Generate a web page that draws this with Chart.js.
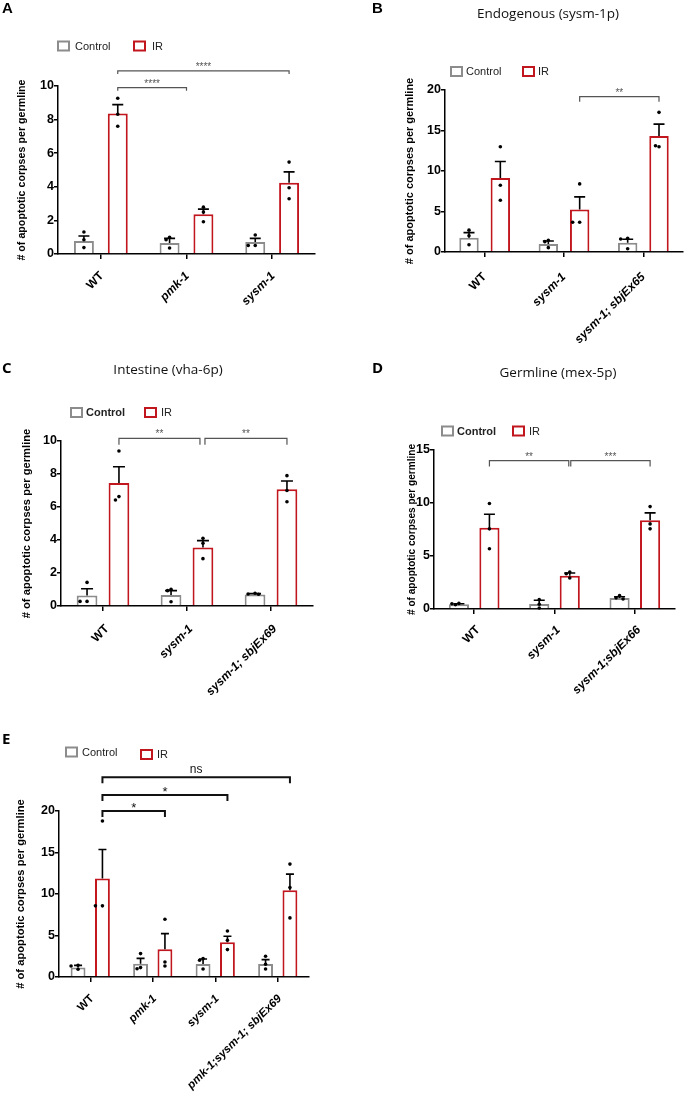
<!DOCTYPE html>
<html>
<head>
<meta charset="utf-8">
<script src="https://cdn.jsdelivr.net/npm/chart.js@4.4.0/dist/chart.umd.min.js"></script>
<style>
html, body { margin: 0; padding: 0; background: #fff; }
#page { position: relative; width: 685px; height: 1097px; overflow: hidden; }
canvas { position: absolute; }
</style>
</head>
<body>
<div id="page">
  <canvas id="chartA"></canvas>
  <canvas id="chartB"></canvas>
  <canvas id="chartC"></canvas>
  <canvas id="chartD"></canvas>
  <canvas id="chartE"></canvas>
</div>
<script>
// --- DATA ---
// Panel A
const aLabels = ['WT', 'pmk-1', 'sysm-1'];
const aCtrlMean = [0.77, 0.65, 0.71];
const aCtrlSem = [0.30, 0.28, 0.22];
const aCtrlDots = [[1.31, 0.85, 0.38], [0.99, 0.85, 0.36], [1.13, 0.51, 0.51]];
const aIrMean = [8.36, 2.36, 4.24];
const aIrSem = [0.53, 0.31, 0.65];
const aIrDots = [[9.27, 8.32, 7.6], [2.79, 2.5, 1.92], [5.47, 3.94, 3.29]];
const aYTicks = [0, 2, 4, 6, 8, 10];

// Panel B
const bLabels = ['WT', 'sysm-1', 'sysm-1; sbjEx65'];
const bCtrlMean = [1.77, 0.99, 1.15];
const bCtrlSem = [0.62, 0.37, 0.42];
const bCtrlDots = [[2.7, 2.0, 0.9], [1.44, 1.28, 0.54], [1.69, 1.6, 0.41]];
const bIrMean = [9.15, 5.24, 14.31];
const bIrSem = [2.03, 1.56, 1.48];
const bIrDots = [[12.99, 8.25, 6.39], [8.41, 3.67, 3.67], [17.24, 12.99, 13.11]];
const bYTicks = [0, 5, 10, 15, 20];

// Panel C
const cLabels = ['WT', 'sysm-1', 'sysm-1; sbjEx69'];
const cCtrlMean = [0.63, 0.67, 0.69];
const cCtrlSem = [0.42, 0.26, 0.06];
const cCtrlDots = [[1.43, 0.28, 0.28], [1.01, 0.93, 0.26], [0.77, 0.73, 0.71]];
const cIrMean = [7.45, 3.54, 7.07];
const cIrSem = [0.99, 0.42, 0.51];
const cIrDots = [[9.39, 6.63, 6.42], [4.1, 3.8, 2.87], [7.9, 7.0, 6.32]];
const cYTicks = [0, 2, 4, 6, 8, 10];

// Panel D
const dLabels = ['WT', 'sysm-1', 'sysm-1;sbjEx66'];
const dCtrlMean = [0.44, 0.47, 1.04];
const dCtrlSem = [0.06, 0.35, 0.12];
const dCtrlDots = [[0.53, 0.5, 0.4], [0.88, 0.45, 0.09], [1.26, 1.05, 0.95]];
const dIrMean = [7.66, 3.14, 8.38];
const dIrSem = [1.28, 0.25, 0.69];
const dIrDots = [[9.95, 7.56, 5.68], [3.48, 3.33, 2.92], [9.66, 8.03, 7.56]];
const dYTicks = [0, 5, 10, 15];

// Panel E
const eLabels = ['WT', 'pmk-1', 'sysm-1', 'pmk-1;sysm-1; sbjEx69'];
const eCtrlMean = [1.13, 1.61, 1.57, 1.57];
const eCtrlSem = [0.27, 0.64, 0.6, 0.52];
const eCtrlDots = [[1.41, 1.33, 0.93], [2.82, 1.13, 1.0], [2.21, 2.01, 0.97], [2.5, 1.53, 0.97]];
const eIrMean = [11.87, 3.34, 4.19, 10.46];
const eIrSem = [3.5, 1.89, 0.72, 1.93];
const eIrDots = [[18.79, 8.57, 8.57], [6.96, 1.81, 1.33], [5.55, 4.43, 3.3], [13.6, 10.78, 7.12]];
const eYTicks = [0, 5, 10, 15, 20];

// significance brackets: from/to = [category, dataset (-1 = category centre), px nudge]
const aBrackets = [
  { from: [0, 1, 0], to: [1, -1, 0], y: 9.9, text: '****' },
  { from: [0, 1, 0], to: [2, 1, 0], y: 10.9, text: '****' }
];
const bBrackets = [{ from: [1, 1, 0], to: [2, 1, 0], y: 19.17, text: '**' }];
const cBrackets = [
  { from: [0, 1, 0], to: [1, 1, -3], y: 10.16, text: '**' },
  { from: [1, 1, 2], to: [2, 1, 0], y: 10.16, text: '**' }
];
const dBrackets = [
  { from: [0, 1, 0], to: [1, 1, -1], y: 14.0, text: '**' },
  { from: [1, 1, 1], to: [2, 1, 0], y: 14.0, text: '***' }
];
const eBrackets = [
  { from: [0, 1, 0], to: [1, 1, 0], y: 20.0, text: '*' },
  { from: [0, 1, 0], to: [2, 1, 0], y: 21.93, text: '*' },
  { from: [0, 1, 0], to: [3, 1, 0], y: 24.06, text: 'ns' }
];

// --- STYLE ---
const SANS = "'Liberation Sans', Arial, Helvetica, sans-serif";
const OPEN = "'Open Sans', 'Liberation Sans', sans-serif";
const CTRL_COLOR = '#8c8c8c';
const IR_COLOR = '#c1161e';
const Y_TITLE = '# of apoptotic corpses per germline';

// --- PANEL LAYOUT (page coordinates) ---
const panels = [
  {
    id: 'chartA', left: 0, top: 0, width: 340, height: 330,
    area: { l: 58, t: 86, r: 315, b: 254 }, yTitleX: 22, yTitleSize: 10.7,
    labels: aLabels, italic: [false, true, true], yTicks: aYTicks, yMax: 10,
    ctrl: { mean: aCtrlMean, sem: aCtrlSem, dots: aCtrlDots },
    ir: { mean: aIrMean, sem: aIrSem, dots: aIrDots },
    catPct: 0.79, barPct: 0.59, cap: 11, xFont: 12, xPad: 10, xShift: 1,
    letter: { text: 'A', x: 2, y: 13, font: 'bold 15px ' + SANS },
    legend: { y: 46, ctrlBox: 58, ctrlText: 75, irBox: 134, irText: 152, ctrlBold: false },
    brackets: aBrackets, bStyle: { color: '#555', width: 1.2, drop: 3, font: '10px ' + SANS, gap: 0 }
  },
  {
    id: 'chartB', left: 340, top: 0, width: 345, height: 346,
    area: { l: 445, t: 90, r: 683, b: 252 }, yTitleX: 410, yTitleSize: 11,
    labels: bLabels, italic: [false, true, true], yTicks: bYTicks, yMax: 20,
    ctrl: { mean: bCtrlMean, sem: bCtrlSem, dots: bCtrlDots },
    ir: { mean: bIrMean, sem: bIrSem, dots: bIrDots },
    catPct: 0.79, barPct: 0.62, cap: 11, xFont: 12, xPad: 13, xShift: 0,
    letter: { text: 'B', x: 372, y: 13, font: 'bold 15px ' + SANS },
    title: { text: 'Endogenous (sysm-1p)', x: 548, y: 14.5 },
    legend: { y: 71.5, ctrlBox: 451, ctrlText: 466, irBox: 523, irText: 538, ctrlBold: false },
    brackets: bBrackets, bStyle: { color: '#555', width: 1.2, drop: 5, font: '10px ' + SANS, gap: 0 }
  },
  {
    id: 'chartC', left: 0, top: 330, width: 340, height: 372,
    area: { l: 61, t: 441, r: 313, b: 606 }, yTitleX: 27, yTitleSize: 11.2,
    labels: cLabels, italic: [false, true, true], yTicks: cYTicks, yMax: 10,
    ctrl: { mean: cCtrlMean, sem: cCtrlSem, dots: cCtrlDots },
    ir: { mean: cIrMean, sem: cIrSem, dots: cIrDots },
    catPct: 0.76, barPct: 0.65, cap: 12, xFont: 12, xPad: 11, xShift: 4,
    letter: { text: 'C', x: 2, y: 373, font: 'bold 15px ' + OPEN },
    title: { text: 'Intestine (vha-6p)', x: 168, y: 370 },
    legend: { y: 412.5, ctrlBox: 71, ctrlText: 86, irBox: 145, irText: 161, ctrlBold: true },
    brackets: cBrackets, bStyle: { color: '#555', width: 1.2, drop: 6.5, font: '10px ' + SANS, gap: 0 }
  },
  {
    id: 'chartD', left: 340, top: 330, width: 345, height: 372,
    area: { l: 434, t: 450, r: 675, b: 609 }, yTitleX: 412, yTitleSize: 10.1,
    labels: dLabels, italic: [false, true, true], yTicks: dYTicks, yMax: 15,
    ctrl: { mean: dCtrlMean, sem: dCtrlSem, dots: dCtrlDots },
    ir: { mean: dIrMean, sem: dIrSem, dots: dIrDots },
    catPct: 0.76, barPct: 0.66, cap: 11, xFont: 12, xPad: 9, xShift: 4,
    letter: { text: 'D', x: 372, y: 373, font: 'bold 15px ' + OPEN },
    title: { text: 'Germline (mex-5p)', x: 558, y: 373 },
    legend: { y: 431, ctrlBox: 442, ctrlText: 457, irBox: 513, irText: 529, ctrlBold: true },
    brackets: dBrackets, bStyle: { color: '#555', width: 1.2, drop: 6, font: '10px ' + SANS, gap: 0 }
  },
  {
    id: 'chartE', left: 0, top: 720, width: 420, height: 377,
    area: { l: 59, t: 811, r: 309, b: 977 }, yTitleX: 21, yTitleSize: 11.2,
    labels: eLabels, italic: [false, true, true, true], yTicks: eYTicks, yMax: 20,
    ctrl: { mean: eCtrlMean, sem: eCtrlSem, dots: eCtrlDots },
    ir: { mean: eIrMean, sem: eIrSem, dots: eIrDots },
    catPct: 0.78, barPct: 0.61, cap: 8, xFont: 11.5, xPad: 10, xShift: 2,
    letter: { text: 'E', x: 2, y: 744, font: 'bold 15px ' + OPEN },
    legend: { y: 752, irY: 754.5, ctrlBox: 66, ctrlText: 82, irBox: 141, irText: 157, ctrlBold: false },
    brackets: eBrackets, bStyle: { color: '#111', width: 2, drop: 6, font: '13px ' + SANS, nsFont: '12px ' + SANS, gap: -2 }
  }
];

// --- OVERLAY: SEM bars, replicate dots, brackets, legend, titles ---
function overlay(p) {
  return {
    id: 'overlay',
    afterDatasetsDraw(chart) {
      const ctx = chart.ctx, ys = chart.scales.y;
      ctx.save();
      [p.ctrl, p.ir].forEach((s, di) => {
        chart.getDatasetMeta(di).data.forEach((bar, i) => {
          const y0 = ys.getPixelForValue(s.mean[i]);
          const y1 = ys.getPixelForValue(s.mean[i] + s.sem[i]);
          ctx.strokeStyle = '#000';
          ctx.lineWidth = 1.6;
          ctx.beginPath();
          ctx.moveTo(bar.x, y0); ctx.lineTo(bar.x, y1);
          ctx.moveTo(bar.x - p.cap / 2, y1); ctx.lineTo(bar.x + p.cap / 2, y1);
          ctx.stroke();
          // replicate dots, nudged sideways when they overlap
          const placed = [];
          s.dots[i].forEach(v => {
            const py = ys.getPixelForValue(v);
            let dx = 0;
            for (const c of [0, -3.5, 3.5, -7, 7]) {
              if (placed.every(q => Math.hypot(q.x - c, q.y - py) >= 3.6)) { dx = c; break; }
            }
            placed.push({ x: dx, y: py });
            ctx.fillStyle = '#000';
            ctx.beginPath();
            ctx.arc(bar.x + dx, py, 1.8, 0, Math.PI * 2);
            ctx.fill();
          });
        });
      });
      ctx.restore();
    },
    afterDraw(chart) {
      const ctx = chart.ctx, xs = chart.scales.x, ys = chart.scales.y;
      const ox = p.left, oy = p.top;
      ctx.save();

      // brackets
      const endX = e => (e[1] < 0 ? xs.getPixelForValue(e[0]) : chart.getDatasetMeta(e[1]).data[e[0]].x) + e[2];
      const st = p.bStyle;
      p.brackets.forEach(b => {
        const x1 = endX(b.from), x2 = endX(b.to);
        const yy = ys.getPixelForValue(b.y);
        ctx.strokeStyle = st.color;
        ctx.lineWidth = st.width;
        ctx.beginPath();
        ctx.moveTo(x1, yy + st.drop); ctx.lineTo(x1, yy); ctx.lineTo(x2, yy); ctx.lineTo(x2, yy + st.drop);
        ctx.stroke();
        ctx.fillStyle = st.color;
        ctx.textAlign = 'center';
        ctx.textBaseline = 'alphabetic';
        if (b.text === 'ns') {
          ctx.font = st.nsFont;
          ctx.fillText(b.text, (x1 + x2) / 2, yy - 4);
        } else {
          ctx.font = st.font;
          ctx.fillText(b.text, (x1 + x2) / 2, yy - 1 - st.gap);
        }
      });

      // legend
      const lg = p.legend;
      const box = (x, y, color) => {
        ctx.strokeStyle = color; ctx.lineWidth = 2;
        ctx.fillStyle = '#fff';
        ctx.fillRect(x - ox, y - oy - 4.5, 11, 9);
        ctx.strokeRect(x - ox, y - oy - 4.5, 11, 9);
      };
      box(lg.ctrlBox, lg.y, CTRL_COLOR);
      box(lg.irBox, lg.irY || lg.y, IR_COLOR);
      ctx.fillStyle = '#222';
      ctx.textAlign = 'left';
      ctx.textBaseline = 'middle';
      ctx.font = (lg.ctrlBold ? 'bold ' : '') + '11px ' + SANS;
      ctx.fillText('Control', lg.ctrlText - ox, lg.y - oy + 0.5);
      ctx.font = '11px ' + SANS;
      ctx.fillText('IR', lg.irText - ox, (lg.irY || lg.y) - oy + 0.5);

      // panel letter and title
      ctx.fillStyle = '#000';
      ctx.textBaseline = 'alphabetic';
      ctx.font = p.letter.font;
      ctx.fillText(p.letter.text, p.letter.x - ox, p.letter.y - oy);
      if (p.title) {
        ctx.font = '13.5px ' + OPEN;
        ctx.fillStyle = '#111';
        ctx.textAlign = 'center';
        ctx.textBaseline = 'middle';
        ctx.fillText(p.title.text, p.title.x - ox, p.title.y - oy);
      }
      ctx.restore();
    }
  };
}

// --- BUILD ---
function buildChart(p) {
  const canvas = document.getElementById(p.id);
  canvas.width = p.width;
  canvas.height = p.height;
  canvas.style.left = p.left + 'px';
  canvas.style.top = p.top + 'px';
  const a = p.area;
  const yWidth = a.l - p.left;
  const xHeight = p.top + p.height - a.b;

  new Chart(canvas, {
    type: 'bar',
    data: {
      labels: p.labels,
      datasets: [
        { label: 'Control', data: p.ctrl.mean, backgroundColor: '#fff', borderColor: CTRL_COLOR, borderWidth: 2 },
        { label: 'IR', data: p.ir.mean, backgroundColor: '#fff', borderColor: IR_COLOR, borderWidth: 2 }
      ]
    },
    options: {
      responsive: false,
      animation: false,
      layout: { padding: { left: 0, top: a.t - p.top, right: p.left + p.width - a.r, bottom: 0 } },
      datasets: { bar: { categoryPercentage: p.catPct, barPercentage: p.barPct } },
      plugins: { legend: { display: false }, tooltip: { enabled: false } },
      scales: {
        x: {
          grid: { offset: false, drawOnChartArea: false, color: '#000', lineWidth: 1.5, tickLength: 5 },
          border: { color: '#000', width: 1.5 },
          ticks: {
            color: '#000', minRotation: 45, maxRotation: 45, padding: p.xPad, labelOffset: p.xShift,
            font: c => ({ family: SANS, size: p.xFont, weight: 'bold', style: p.italic[c.index] ? 'italic' : 'normal' })
          },
          afterFit: s => { s.height = xHeight; }
        },
        y: {
          min: 0,
          max: p.yMax,
          afterBuildTicks: s => { s.ticks = p.yTicks.map(v => ({ value: v })); },
          grid: { drawOnChartArea: false, color: '#000', lineWidth: 1.5, tickLength: 4 },
          border: { color: '#000', width: 1.5 },
          ticks: { color: '#000', padding: 0, font: { family: SANS, size: 12.5, weight: 'bold' } },
          title: {
            display: true, text: Y_TITLE, color: '#000',
            font: { family: SANS, size: p.yTitleSize, weight: 'bold' },
            padding: { top: p.yTitleX - p.left - p.yTitleSize * 0.6, bottom: 0 }
          },
          afterFit: s => { s.width = yWidth; }
        }
      }
    },
    plugins: [overlay(p)]
  });
}

panels.forEach(buildChart);
</script>
</body>
</html>
